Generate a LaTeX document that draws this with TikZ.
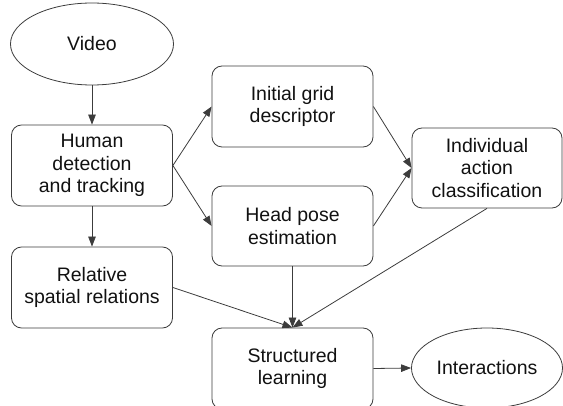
\documentclass[tikz,border=0pt]{standalone}
\usepackage{fontspec}
\setmainfont{Liberation Sans}
\usetikzlibrary{shapes.geometric,arrows.meta}
\definecolor{edgegray}{HTML}{3C3C3C}
\definecolor{inkgray}{HTML}{111111}
\tikzset{
  base/.style={draw=edgegray, line width=0.8pt, inner sep=0pt, align=center,
    text=inkgray, font=\fontsize{19.5}{22.5}\selectfont},
  procbox/.style={base, rectangle, rounded corners=10pt,
    minimum width=161pt, minimum height=81pt},
  termnode/.style={base, ellipse, minimum width=163pt, minimum height=82pt},
  flow/.style={draw=edgegray, line width=0.8pt,
    -{Triangle[length=10pt, width=7.5pt]}}
}
\begin{document}
\begin{tikzpicture}[x=1pt, y=-1pt]
  \useasboundingbox (0,0) rectangle (563,406);

  % input and first stage
  \node[termnode] (video) at (92,44) {Video};
  \node[procbox] (human) at (92,165.5) {Human\\detection\\and tracking};
  \node[procbox] (rel) at (92,287.5) {Relative\\spatial relations};

  % feature extraction
  \node[procbox] (grid) at (292.5,106.5) {Initial grid\\descriptor};
  \node[procbox, minimum height=80pt] (head) at (292.5,226) {Head pose\\estimation};

  % classification and learning
  \node[procbox, minimum width=150pt, minimum height=80pt] (indiv) at (487,168)
    {Individual\\action\\classification};
  \node[procbox] (learn) at (292.5,368.5) {Structured\\learning};
  \node[termnode, minimum width=151pt, minimum height=80pt] (inter) at (487,368)
    {Interactions};

  % connectors
  \draw[flow] (video.south) -- (human.north);
  \draw[flow] (human.south) -- (rel.north);
  \draw[flow] (human.east) -- (grid.west);
  \draw[flow] (human.east) -- (head.west);
  \draw[flow] (grid.east) -- (indiv.west);
  \draw[flow] (head.east) -- (indiv.west);
  \draw[flow] (head.south) -- (learn.north);
  \draw[flow] (rel.east) -- (learn.north);
  \draw[flow] (indiv.south) -- (learn.north);
  \draw[flow] (learn.east) -- (inter.west);
\end{tikzpicture}
\end{document}
